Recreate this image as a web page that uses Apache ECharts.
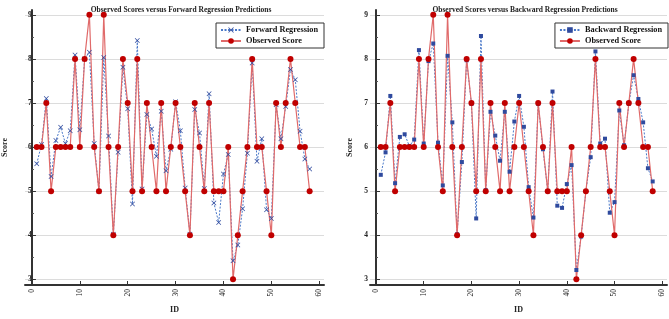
<!DOCTYPE html>
<html>
<head>
<meta charset="utf-8">
<script src="https://cdn.jsdelivr.net/npm/echarts@6/dist/echarts.min.js"></script>
<style>
  html, body { margin: 0; padding: 0; background: #fff; }
  #chart { width: 669px; height: 319px; }
</style>
</head>
<body>
<div id="chart"></div>
<script>
// student IDs
const ids = [1, 2, 3, 4, 5, 6, 7, 8, 9, 10, 11, 12, 13, 14, 15, 16, 17, 18, 19, 20,
  21, 22, 23, 24, 25, 26, 27, 28, 29, 30, 31, 32, 33, 34, 35, 36, 37, 38, 39, 40,
  41, 42, 43, 44, 45, 46, 47, 48, 49, 50, 51, 52, 53, 54, 55, 56, 57, 58];

// observed scores
const observed = [6, 6, 7, 5, 6, 6, 6, 6, 8, 6, 8, 9, 6, 5, 9, 6, 4, 6, 8, 7,
  5, 8, 5, 7, 6, 5, 7, 5, 6, 7, 6, 5, 4, 7, 6, 5, 7, 5, 5, 5,
  6, 3, 4, 5, 6, 8, 6, 6, 5, 4, 7, 6, 7, 8, 7, 6, 6, 5];

// forward regression predictions
const forwardPred = [5.62, 6.06, 7.10, 5.33, 6.15, 6.45, 6.08, 6.37, 8.09, 6.39,
  8.00, 8.15, 6.08, 5.00, 8.03, 6.25, 4.02, 5.88, 7.81, 6.87,
  4.71, 8.42, 5.05, 6.74, 6.41, 5.79, 6.81, 5.46, 5.95, 7.03,
  6.37, 5.07, 4.02, 6.85, 6.32, 5.06, 7.21, 4.73, 4.29, 5.39,
  5.83, 3.42, 3.78, 4.60, 5.86, 7.91, 5.68, 6.19, 4.58, 4.38,
  6.96, 6.19, 6.92, 7.76, 7.53, 6.36, 5.73, 5.50];

// backward regression predictions
const backwardPred = [5.37, 5.88, 7.16, 5.18, 6.23, 6.29, 6.02, 6.17, 8.20, 6.08,
  7.95, 8.35, 6.10, 5.13, 8.07, 6.56, 4.02, 5.66, 7.97, 6.98,
  4.38, 8.52, 5.02, 6.80, 6.26, 5.69, 6.80, 5.44, 6.58, 7.16,
  6.46, 5.09, 4.40, 6.98, 5.95, 5.00, 7.26, 4.67, 4.62, 5.16,
  5.59, 3.21, 3.97, 5.00, 5.77, 8.17, 6.08, 6.19, 4.51, 4.75,
  6.83, 6.04, 6.98, 7.63, 7.09, 6.56, 5.52, 5.22];

const xTicks = [0, 10, 20, 30, 40, 50, 60];
const yTicks = [3, 4, 5, 6, 7, 8, 9];

const serif = 'Liberation Serif';
const xMark = 'path://M0,1L1,0L5,4L9,0L10,1L6,5L10,9L9,10L5,6L1,10L0,9L4,5Z';

function pairs(vals) {
  return ids.map((id, i) => [id, vals[i]]);
}

function xAxisFor(idx, min) {
  return {
    type: 'value', gridIndex: idx, min: min, max: 61,
    name: 'ID', nameLocation: 'middle', nameGap: 21,
    nameTextStyle: { fontFamily: serif, fontSize: 8, fontWeight: 'bold', color: '#222' },
    axisLine: { lineStyle: { color: '#333', width: 2 } },
    axisTick: { inside: true, length: 4, customValues: xTicks, lineStyle: { color: '#333' } },
    axisLabel: { customValues: xTicks, rotate: 90, margin: 4, fontFamily: serif, fontSize: 7.5, color: '#222' },
    splitLine: { show: false }
  };
}

function yAxisFor(idx, inside) {
  return {
    type: 'value', gridIndex: idx, min: 2.87, max: 9.11,
    name: 'Score', nameLocation: 'middle', nameGap: 16,
    nameTextStyle: { fontFamily: serif, fontSize: 8, fontWeight: 'bold', color: '#222' },
    axisLine: { show: true, lineStyle: { color: '#333', width: 2 } },
    axisTick: { inside: true, length: 4, customValues: yTicks, lineStyle: { color: '#333' } },
    minorTick: { show: true, splitNumber: 2, length: 2, lineStyle: { color: '#555' } },
    axisLabel: {
      customValues: yTicks, inside: inside, margin: inside ? 3 : 2, hideOverlap: false,
      fontFamily: serif, fontSize: 7.5, fontWeight: 'bold', color: '#222'
    },
    splitLine: { show: true, lineStyle: { color: '#dcdcdc', width: 1 } }
  };
}

function predSeries(name, vals, idx, symbol, size) {
  return {
    name: name, type: 'line', xAxisIndex: idx, yAxisIndex: idx,
    data: pairs(vals), symbol: symbol, symbolSize: size,
    itemStyle: { color: '#2f4a9e' },
    lineStyle: { color: '#4a78c8', width: 1, type: [2, 1.5] }
  };
}

function obsSeries(idx) {
  return {
    name: 'Observed Score', type: 'line', xAxisIndex: idx, yAxisIndex: idx,
    data: pairs(observed), symbol: 'circle', symbolSize: 6,
    itemStyle: { color: '#c00000' },
    lineStyle: { color: '#e06a6a', width: 1.2 }
  };
}

function legendFor(right, names) {
  return {
    right: right, top: 23, orient: 'vertical', data: names,
    itemWidth: 20, itemHeight: 7, itemGap: 3, padding: [3, 6, 3, 4],
    borderColor: '#333', borderWidth: 1, backgroundColor: '#fff',
    textStyle: { fontFamily: serif, fontSize: 8.3, fontWeight: 'bold', color: '#111' }
  };
}

const chart = echarts.init(document.getElementById('chart'));
chart.setOption({
  animation: false,
  title: [
    { text: 'Observed Scores versus Forward Regression Predictions', left: 176, top: 1, textAlign: 'center',
      textStyle: { fontFamily: serif, fontSize: 7.5, fontWeight: 'bold', color: '#222' } },
    { text: 'Observed Scores versus Backward Regression Predictions', left: 520, top: 1, textAlign: 'center',
      textStyle: { fontFamily: serif, fontSize: 7.5, fontWeight: 'bold', color: '#222' } }
  ],
  legend: [
    legendFor(345, ['Forward Regression', 'Observed Score']),
    legendFor(1, ['Backward Regression', 'Observed Score'])
  ],
  grid: [
    { left: 23, top: 10, width: 301, height: 284 },
    { left: 370, top: 10, width: 297, height: 284 }
  ],
  xAxis: [xAxisFor(0, -1.45), xAxisFor(1, -1.26)],
  yAxis: [yAxisFor(0, true), yAxisFor(1, false)],
  series: [
    predSeries('Forward Regression', forwardPred, 0, xMark, 5),
    obsSeries(0),
    predSeries('Backward Regression', backwardPred, 1, 'rect', 4),
    obsSeries(1)
  ]
});
</script>
</body>
</html>
